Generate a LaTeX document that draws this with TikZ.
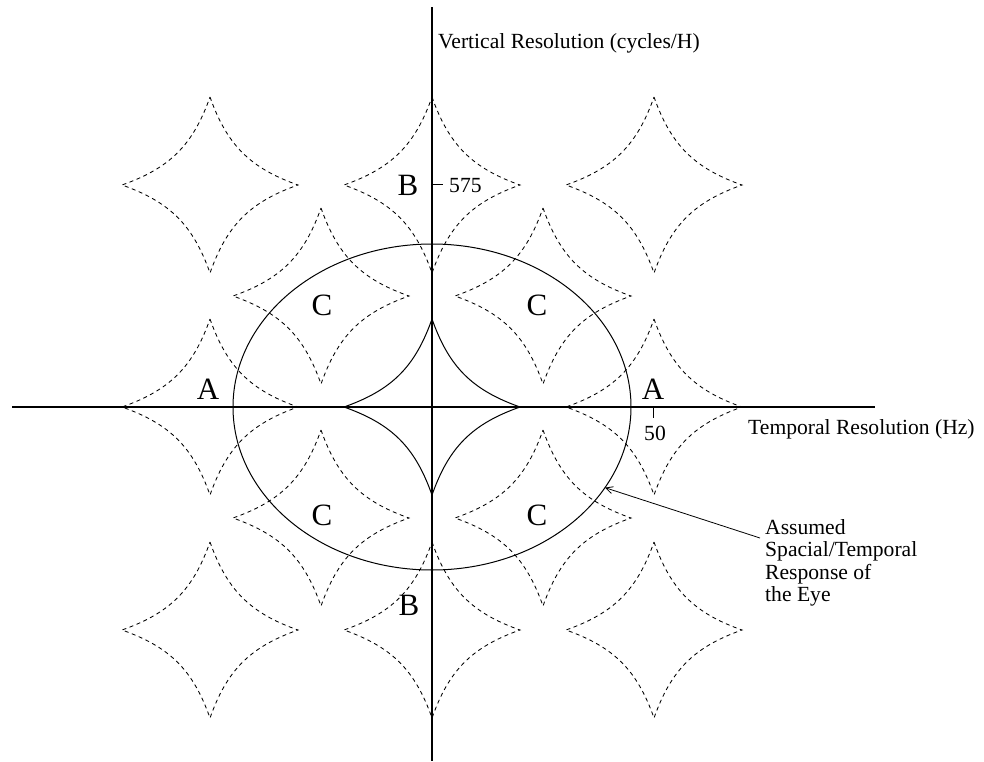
\documentclass[tikz,border=0pt]{standalone}
\usepackage{fontspec}
\setmainfont{Liberation Serif}
\usetikzlibrary{shapes.geometric,arrows.meta}
\tikzset{
  astroid/.pic={
    \draw[pic actions] (0,-88) .. controls (17,-40) and (40,-17) .. (88,0)
      .. controls (40,17) and (17,40) .. (0,88)
      .. controls (-17,40) and (-40,17) .. (-88,0)
      .. controls (-40,-17) and (-17,-40) .. cycle;
  },
  dstar/.style={line width=0.85pt, dash pattern=on 4pt off 3.5pt},
  sstar/.style={line width=1pt},
  axisline/.style={line width=1.1pt},
  lbl/.style={inner sep=0pt, font=\fontsize{21.6}{22.4}\selectfont},
  big/.style={inner sep=0pt, font=\fontsize{31}{31}\selectfont},
}
\begin{document}
\begin{tikzpicture}[x=1pt,y=-1pt]
\useasboundingbox (0,0) rectangle (984,761);
% dashed stars
\foreach \cx/\cy in {210/185,432/185,654/185,321/296,543/296,210/407,654/407,321/518,543/518,210/630,432/630,654/630}
  \pic[dstar] at (\cx,\cy) {astroid};
% central solid star
\pic[sstar] at (432,407) {astroid};
% axes
\coordinate (xl) at (12,407);
\coordinate (xr) at (875,407);
\coordinate (yt) at (432,7);
\coordinate (yb) at (432,761);
\draw[axisline] (xl) -- (xr);
\draw[axisline] (yt) -- (yb);
% ellipse
\node[draw, ellipse, line width=1pt, minimum width=398pt, minimum height=326pt, inner sep=0pt, outer sep=0pt] (eye) at (432,407) {};
% ticks
\coordinate (t575a) at (433,184);
\coordinate (t575b) at (443,184);
\coordinate (t50a) at (653,407);
\coordinate (t50b) at (653,418);
\draw[line width=0.9pt] (t575a) -- (t575b);
\draw[line width=0.9pt] (t50a) -- (t50b);
\node[lbl, anchor=base west] (l575) at (449,192) {575};
\node[lbl, anchor=base] (l50) at (655,440) {50};
% axis labels
\node[lbl, anchor=base west] (vlab) at (438,48) {Vertical Resolution (cycles/H)};
\node[lbl, anchor=base west] (tlab) at (748,434) {Temporal Resolution (Hz)};
% region letters
\node[big] (A1) at (208,389) {A};
\node[big] (A2) at (653,389) {A};
\node[big] (B1) at (408,185) {B};
\node[big] (B2) at (409,605) {B};
\node[big] (C1) at (322,305) {C};
\node[big] (C2) at (537,305) {C};
\node[big] (C3) at (322,515) {C};
\node[big] (C4) at (537,515) {C};
% annotation
\node[lbl, anchor=north west, align=left] (note) at (765,519) {Assumed\\Spacial/Temporal\\Response of\\the Eye};
\coordinate (atail) at (760,538);
\draw[line width=0.8pt, -{Straight Barb[length=7pt,width=7pt]}] (atail) -- (eye.-25.9);
\end{tikzpicture}
\end{document}
